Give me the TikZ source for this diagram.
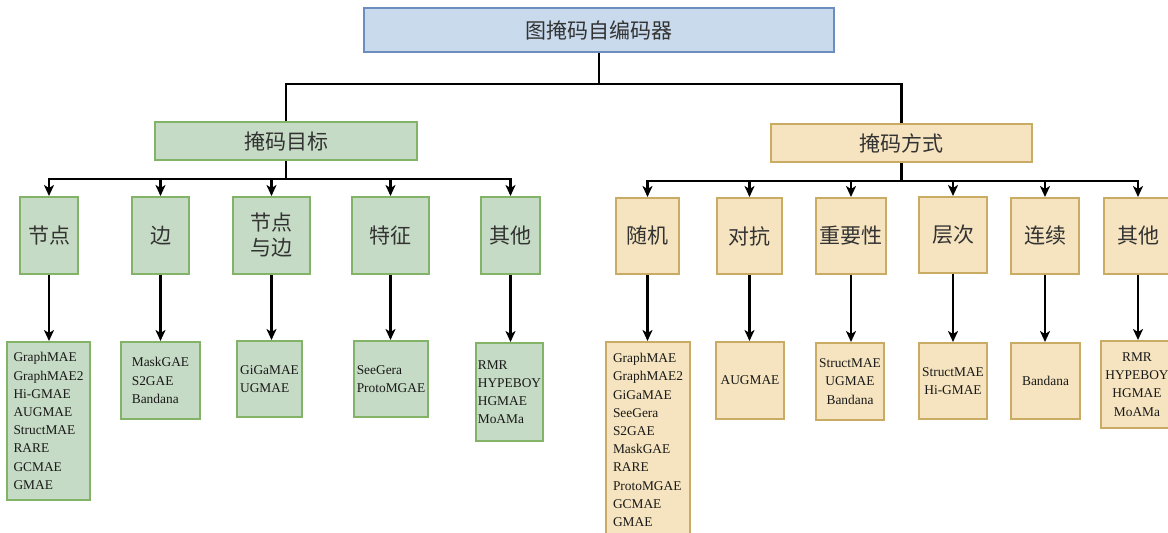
\documentclass[tikz,border=0pt]{standalone}
\usepackage{fontspec}
\setmainfont{Liberation Serif}
\newfontfamily\cjk{Noto Sans CJK SC}
\usetikzlibrary{arrows.meta}
\definecolor{gfill}{HTML}{C6DBC5}
\definecolor{gline}{HTML}{82B366}
\definecolor{yfill}{HTML}{F5E4BF}
\definecolor{yline}{HTML}{C9AB64}
\definecolor{bfill}{HTML}{C8DAEC}
\definecolor{bline}{HTML}{6C8EBF}
\begin{document}
\begin{tikzpicture}[x=1pt,y=-1pt,
  box/.style={draw, line width=2pt, inner sep=0pt, anchor=center},
  gbox/.style={box, fill=gfill, draw=gline},
  ybox/.style={box, fill=yfill, draw=yline},
  bbox/.style={box, fill=bfill, draw=bline},
  cj/.style={font=\cjk\fontsize{21}{25}\selectfont, align=center, text=black!80},
  leafl/.style={font=\fontsize{13.4}{18.2}\selectfont, align=left, text=black!90},
  leafc/.style={font=\fontsize{13.4}{18.2}\selectfont, align=center, text=black!90},
  conn/.style={line width=2.2pt, black},
  arr/.style={conn, -{Stealth[length=11pt,width=10pt,inset=3pt]}},
]
\useasboundingbox (0,0) rectangle (1168,533);
\clip (0,0) rectangle (1168,533);
\fill[white] (0,0) rectangle (1168,533);

% root and level 1
\node[bbox, cj, minimum width=470, minimum height=44] (root) at (599,30) {图掩码自编码器};
\node[gbox, cj, minimum width=262, minimum height=38] (jt) at (286,141) {掩码目标};
\node[ybox, cj, minimum width=261, minimum height=38] (fs) at (901.5,143) {掩码方式};

% green children
\node[gbox, cj, minimum width=58, minimum height=77] (c1) at (49,235.5) {节点};
\node[gbox, cj, minimum width=57, minimum height=77] (c2) at (160.5,235.5) {边};
\node[gbox, cj, minimum width=77, minimum height=77] (c3) at (271.5,235.5) {节点\\与边};
\node[gbox, cj, minimum width=77, minimum height=77] (c4) at (390.5,235.5) {特征};
\node[gbox, cj, minimum width=59, minimum height=77] (c5) at (510.5,235.5) {其他};

% yellow children
\node[ybox, cj, minimum width=63, minimum height=76] (d1) at (647.5,236) {随机};
\node[ybox, cj, minimum width=65, minimum height=76] (d2) at (749.5,236) {对抗};
\node[ybox, cj, minimum width=70, minimum height=76] (d3) at (851,236) {重要性};
\node[ybox, cj, minimum width=68, minimum height=76] (d4) at (953,235) {层次};
\node[ybox, cj, minimum width=68, minimum height=76] (d5) at (1045,236) {连续};
\node[ybox, cj, minimum width=68, minimum height=76] (d6) at (1138,236) {其他};

% green leaves
\node[gbox, leafl, minimum width=83, minimum height=158] (l1) at (48.5,421) {GraphMAE\\GraphMAE2\\Hi-GMAE\\AUGMAE\\StructMAE\\RARE\\GCMAE\\GMAE};
\node[gbox, leafl, minimum width=79, minimum height=77] (l2) at (160.5,380.5) {MaskGAE\\S2GAE\\Bandana};
\node[gbox, leafl, minimum width=65, minimum height=76] (l3) at (269.5,379) {GiGaMAE\\UGMAE};
\node[gbox, leafl, minimum width=74, minimum height=76] (l4) at (391,379) {SeeGera\\ProtoMGAE};
\node[gbox, leafl, minimum width=67, minimum height=98] (l5) at (509.5,392) {RMR\\HYPEBOY\\HGMAE\\MoAMa};

% yellow leaves
\node[ybox, leafl, minimum width=84, minimum height=196] (m1) at (648,440) {GraphMAE\\GraphMAE2\\GiGaMAE\\SeeGera\\S2GAE\\MaskGAE\\RARE\\ProtoMGAE\\GCMAE\\GMAE};
\node[ybox, leafc, minimum width=68, minimum height=77] (m2) at (750,380.5) {AUGMAE};
\node[ybox, leafc, minimum width=68, minimum height=77] (m3) at (850,381.5) {StructMAE\\UGMAE\\Bandana};
\node[ybox, leafc, minimum width=68, minimum height=76] (m4) at (953,381) {StructMAE\\Hi-GMAE};
\node[ybox, leafc, minimum width=69, minimum height=76] (m5) at (1045.5,381) {Bandana};
\node[ybox, leafc, minimum width=72, minimum height=87] (m6) at (1137,384.5) {RMR\\HYPEBOY\\HGMAE\\MoAMa};

% junctions
\coordinate (rj) at (596,84);
\coordinate (jb) at (286,179);
\coordinate (fb) at (901.5,181);

% root connectors
\draw[conn] (root.south) -- (root.south |- rj);
\draw[conn] (jt.north) |- (rj);
\draw[conn] (fs.north) |- (rj);

% level 1 -> level 2
\foreach \c in {c1,c2,c3,c4,c5}{
  \draw[arr] (jt.south) -- (jb) -| (\c.north);
}
\foreach \c in {d1,d2,d3,d4,d5,d6}{
  \draw[arr] (fs.south) -- (fb) -| (\c.north);
}

% level 2 -> leaves
\draw[arr] (c1.south) -- (c1.south |- l1.north);
\draw[arr] (c2.south) -- (c2.south |- l2.north);
\draw[arr] (c3.south) -- (c3.south |- l3.north);
\draw[arr] (c4.south) -- (c4.south |- l4.north);
\draw[arr] (c5.south) -- (c5.south |- l5.north);
\draw[arr] (d1.south) -- (d1.south |- m1.north);
\draw[arr] (d2.south) -- (d2.south |- m2.north);
\draw[arr] (d3.south) -- (d3.south |- m3.north);
\draw[arr] (d4.south) -- (d4.south |- m4.north);
\draw[arr] (d5.south) -- (d5.south |- m5.north);
\draw[arr] (d6.south) -- (d6.south |- m6.north);
\end{tikzpicture}
\end{document}
